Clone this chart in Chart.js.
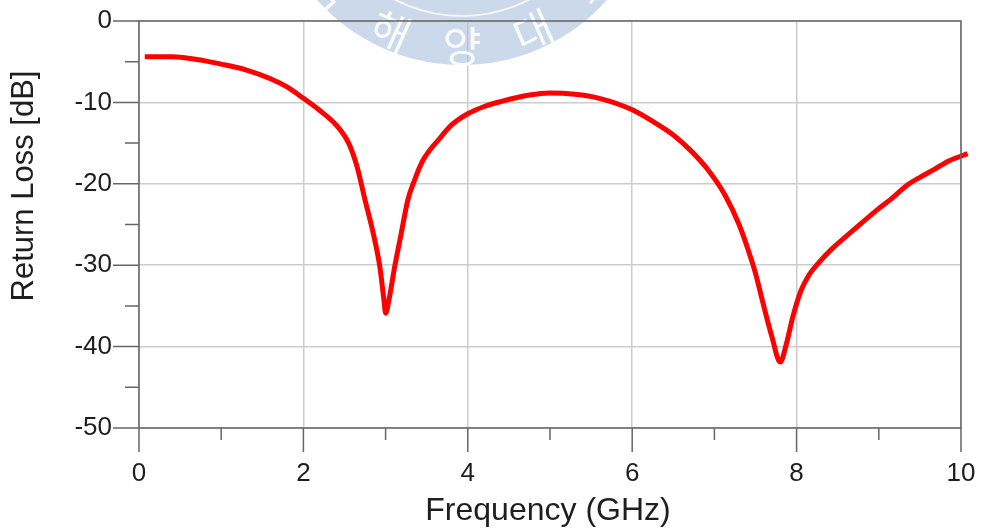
<!DOCTYPE html>
<html>
<head>
<meta charset="utf-8">
<script src="https://cdn.jsdelivr.net/npm/chart.js@4.4.1/dist/chart.umd.min.js"></script>
<style>
  html, body { margin: 0; padding: 0; background: #fff; }
  #wrap { width: 992px; height: 530px; position: relative; }
</style>
</head>
<body>
<div id="wrap"><canvas id="rl-chart" width="992" height="530"></canvas></div>
<script>
// 周波数 (GHz) と反射損失 (dB)
const freqGHz = [0.07, 0.4, 0.8, 1.0, 1.3, 1.6, 1.8, 2.0, 2.2, 2.4, 2.55, 2.65, 2.75, 2.85, 2.93, 2.98, 3.0,
  3.04, 3.11, 3.19, 3.27, 3.35, 3.45, 3.66, 3.8, 4.0, 4.2, 4.4, 4.75, 5.0, 5.3, 5.6, 6.0, 6.34, 6.5, 6.7, 6.9,
  7.13, 7.3, 7.41, 7.5, 7.6, 7.7, 7.8, 7.88, 7.95, 8.05, 8.15, 8.26, 8.43, 8.69, 8.98, 9.17, 9.34, 9.5, 9.68, 9.85, 10.08];
const returnLoss = [-4.4, -4.4, -4.9, -5.3, -6.0, -7.1, -8.1, -9.5, -11.0, -12.8, -15.0, -17.8, -22.0, -26.1, -30.2, -34.3, -35.9,
  -34.3, -30.2, -26.1, -22.0, -19.6, -17.2, -14.4, -12.8, -11.4, -10.5, -9.9, -9.1, -8.85, -9.0, -9.5, -10.9, -12.9, -14.0, -15.8, -18.0,
  -21.4, -25.0, -28.1, -31.0, -35.0, -38.8, -41.9, -39.5, -36.5, -33.2, -31.2, -29.8, -28.0, -25.7, -23.2, -21.7, -20.2, -19.2, -18.2, -17.2, -16.3];

const xTicks = [0, 1, 2, 3, 4, 5, 6, 7, 8, 9, 10];
const yTicks = [-50, -45, -40, -35, -30, -25, -20, -15, -10, -5, 0];
const xTitle = 'Frequency (GHz)';
const yTitle = 'Return Loss [dB]';
const markText = ['국', '해', '양', '대', '학'];

const FONT = '"Liberation Sans", Arial, sans-serif';
const INK = '#1e1e1e';
const AXIS = '#666666';

// 透かし
const watermark = {
  id: 'watermark',
  beforeDatasetsDraw(chart) {
    const ctx = chart.ctx;
    const cx = 462, cy = -129, r = 194;
    ctx.save();
    ctx.fillStyle = 'rgba(170, 192, 222, 0.6)';
    ctx.beginPath();
    ctx.arc(cx, cy, r, 0, Math.PI * 2);
    ctx.fill();
    ctx.strokeStyle = 'rgba(255,255,255,0.8)';
    ctx.lineWidth = 2;
    ctx.beginPath();
    ctx.arc(cx, cy, 145, 0, Math.PI * 2);
    ctx.stroke();
    ctx.fillStyle = 'rgba(255,255,255,0.9)';
    ctx.font = '42px "Noto Sans CJK KR", sans-serif';
    ctx.textAlign = 'center';
    ctx.textBaseline = 'middle';
    markText.forEach((ch, i) => {
      const ang = (138 - i * 24) * Math.PI / 180;
      ctx.save();
      ctx.translate(cx + Math.cos(ang) * 175, cy + Math.sin(ang) * 175);
      ctx.rotate(ang - Math.PI / 2);
      ctx.fillText(ch, 0, 0);
      ctx.restore();
    });
    ctx.restore();
  }
};

// 枠・目盛り・軸タイトル
const frame = {
  id: 'frame',
  afterDraw(chart) {
    const ctx = chart.ctx;
    const a = chart.chartArea;
    const xs = chart.scales.x, ys = chart.scales.y;
    ctx.save();
    ctx.strokeStyle = AXIS;
    ctx.lineWidth = 1.5;
    ctx.strokeRect(a.left, a.top, a.right - a.left, a.bottom - a.top);
    ctx.beginPath();
    xTicks.forEach(v => {
      const px = xs.getPixelForValue(v);
      ctx.moveTo(px, a.bottom);
      ctx.lineTo(px, a.bottom + (v % 2 === 0 ? 24 : 12));
    });
    yTicks.forEach(v => {
      const py = ys.getPixelForValue(v);
      ctx.moveTo(a.left, py);
      ctx.lineTo(a.left - (v % 10 === 0 ? 26 : 14), py);
    });
    ctx.stroke();

    ctx.fillStyle = INK;
    ctx.font = '32px ' + FONT;
    ctx.textAlign = 'center';
    ctx.textBaseline = 'alphabetic';
    ctx.fillText(xTitle, 548, 520);
    ctx.save();
    ctx.translate(24, 186);
    ctx.rotate(-Math.PI / 2);
    ctx.font = '31px ' + FONT;
    ctx.textBaseline = 'middle';
    ctx.fillText(yTitle, 0, 0);
    ctx.restore();
    ctx.restore();
  }
};

// 目盛りラベルの余白を無視する
function noPad(s) {
  s.paddingLeft = 0;
  s.paddingRight = 0;
  s.paddingTop = 0;
  s.paddingBottom = 0;
}

new Chart(document.getElementById('rl-chart'), {
  type: 'line',
  data: {
    datasets: [{
      data: freqGHz.map((f, i) => ({ x: f, y: returnLoss[i] })),
      borderColor: '#ff0000',
      borderWidth: 5,
      pointRadius: 0,
      fill: false,
      cubicInterpolationMode: 'monotone',
      clip: { left: 5, top: 5, right: 10, bottom: 5 }
    }]
  },
  plugins: [watermark, frame],
  options: {
    responsive: false,
    animation: false,
    devicePixelRatio: 1,
    layout: { padding: { left: 0, top: 21, right: 31, bottom: 0 } },
    plugins: { legend: { display: false }, tooltip: { enabled: false } },
    scales: {
      x: {
        type: 'linear',
        min: 0,
        max: 10,
        afterFit: s => { s.height = 102; noPad(s); },
        afterBuildTicks: s => { s.ticks = xTicks.map(v => ({ value: v })); },
        border: { display: false },
        grid: {
          drawTicks: false,
          color: c => (c.tick && c.tick.value % 2 === 0 ? '#cccccc' : 'transparent'),
          lineWidth: 1.5
        },
        ticks: {
          autoSkip: false,
          maxRotation: 0,
          padding: 30,
          color: INK,
          font: { family: FONT, size: 26 },
          callback: v => (v % 2 === 0 ? String(v) : '')
        }
      },
      y: {
        type: 'linear',
        min: -50,
        max: 0,
        afterFit: s => { s.width = 139; noPad(s); },
        afterBuildTicks: s => { s.ticks = yTicks.map(v => ({ value: v })); },
        border: { display: false },
        grid: {
          drawTicks: false,
          color: c => (c.tick && c.tick.value % 10 === 0 ? '#cccccc' : 'transparent'),
          lineWidth: 1.5
        },
        ticks: {
          autoSkip: false,
          padding: 27,
          color: INK,
          font: { family: FONT, size: 26 },
          callback: v => (v % 10 === 0 ? String(v) : '')
        }
      }
    }
  }
});
</script>
</body>
</html>
